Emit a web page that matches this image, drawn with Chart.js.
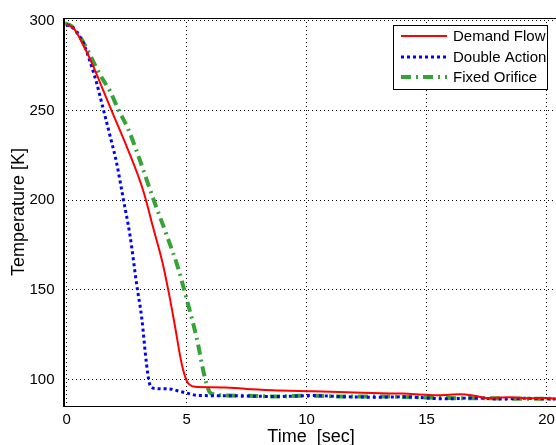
<!DOCTYPE html>
<html>
<head>
  <title>Temperature vs Time</title>
  <meta charset="utf-8" />
  <script src="https://cdn.jsdelivr.net/npm/chart.js@4/dist/chart.umd.min.js"></script>
  <style>
    html, body {
      margin: 0;
      padding: 0;
      background: #ffffff;
      overflow: hidden;
    }
    #wrap {
      width: 560px;
      height: 450px;
    }
  </style>
</head>
<body>
  <div id="wrap">
    <canvas id="tempChart" width="560" height="450"></canvas>
  </div>
  <script>
    // values
    var seriesNames = ['Demand Flow', 'Double Action', 'Fixed Orifice'];

    var demandTime = [0, 0.3, 0.8, 1.1, 1.5, 1.9, 2.5, 3.2, 3.6, 4.0, 4.25, 4.5, 4.8, 5.0, 5.1, 5.35, 6, 7.2, 7.5, 8.9, 10.3, 11, 13.1, 14, 15, 15.5, 16.4, 17, 17.5, 18.5, 19.3, 20, 20.5];
    var demandTemp = [298, 295.7, 283.5, 275, 262, 249, 230, 205, 185, 165, 149, 131, 108.6, 99.5, 97.5, 96, 95.8, 95.2, 94.8, 94, 93.5, 93.3, 92.4, 92.2, 91.5, 91.3, 91.8, 91, 89.8, 90.2, 89.6, 89.8, 89];

    var doubleTime = [0, 0.15, 0.35, 0.7, 1.04, 1.25, 1.53, 1.81, 2.08, 2.36, 2.64, 2.92, 3.13, 3.33, 3.45, 3.55, 3.75, 4.3, 4.7, 5.1, 5.3, 5.8, 6.9, 8.75, 10.3, 11.5, 13, 14, 15.8, 17, 18, 19, 20, 20.5];
    var doubleTemp = [297.6, 297.2, 294.8, 287.4, 274.6, 265.3, 250.6, 235.8, 221, 200.8, 180.5, 153, 134.4, 108.6, 98, 95.6, 95, 94.8, 93.5, 92.2, 91.5, 91.1, 91, 90.6, 91.1, 90.5, 90.2, 90.4, 89.3, 89.8, 89.2, 89.6, 89.3, 89.2];

    var fixedTime = [-0.07, 0.2, 0.55, 0.97, 1.39, 1.81, 2.15, 2.57, 2.98, 3.61, 4.17, 4.65, 5.0, 5.42, 5.76, 5.97, 6.15, 6.67, 7.5, 8.6, 10, 11.5, 13, 14.5, 16, 17.5, 19, 20, 20.5];
    var fixedTemp = [298.5, 297, 291.2, 281, 269.9, 260.7, 250.6, 239.5, 225, 200.8, 180.5, 162, 145, 123.3, 101.2, 92.9, 91.8, 91.1, 91, 90.6, 91, 90.6, 90.6, 90.2, 89.7, 89.6, 89.3, 89.3, 89.2];

    var xTicks = [0, 5, 10, 15, 20];
    var yTicks = [100, 150, 200, 250, 300];

    var colors = ['#ff0000', '#0000ff', '#36a336'];
    var widths = [2, 3, 4];
    var dashes = [[], [3, 3], [10, 5, 2, 5]];

    function toPoints(xs, ys) {
      return xs.map(function(x, i) { return { x: x, y: ys[i] }; });
    }

    var seriesData = [
      toPoints(demandTime, demandTemp),
      toPoints(doubleTime, doubleTemp),
      toPoints(fixedTime, fixedTemp)
    ];

    var fontFam = '"Liberation Sans", Arial, sans-serif';

    // box round the plot + legend box in the top right
    var framePlugin = {
      id: 'frame',
      afterDraw: function(chart) {
        var ctx = chart.ctx;
        var a = chart.chartArea;
        ctx.save();
        ctx.strokeStyle = '#000';
        ctx.lineWidth = 1;
        ctx.strokeRect(Math.round(a.left) + 0.5, Math.round(a.top) + 0.5,
          Math.round(a.right - a.left), Math.round(a.bottom - a.top));

        // legend
        var bx = 393, by = 25, bw = 154, bh = 64;
        ctx.fillStyle = '#fff';
        ctx.fillRect(bx, by, bw, bh);
        ctx.strokeRect(bx + 0.5, by + 0.5, bw, bh);
        ctx.font = '15px ' + fontFam;
        ctx.textBaseline = 'middle';
        var rows = [36, 57, 77];
        seriesNames.forEach(function(name, i) {
          ctx.beginPath();
          ctx.strokeStyle = colors[i];
          ctx.lineWidth = widths[i];
          ctx.setLineDash(dashes[i]);
          ctx.moveTo(401, rows[i]);
          ctx.lineTo(447, rows[i]);
          ctx.stroke();
          ctx.setLineDash([]);
          ctx.fillStyle = '#000';
          ctx.fillText(name, 453, rows[i] + 1);
        });
        ctx.restore();
      }
    };

    var ctx = document.getElementById('tempChart').getContext('2d');
    var tempChart = new Chart(ctx, {
      type: 'line',
      data: {
        datasets: seriesNames.map(function(name, i) {
          return {
            label: name,
            data: seriesData[i],
            borderColor: colors[i],
            borderWidth: widths[i],
            borderDash: dashes[i],
            pointRadius: 0,
            cubicInterpolationMode: 'monotone',
            fill: false
          };
        })
      },
      options: {
        responsive: false,
        animation: false,
        devicePixelRatio: 1,
        layout: { padding: { top: 15, right: 1.5, left: 0, bottom: 0 } },
        plugins: {
          legend: { display: false },
          tooltip: { enabled: false }
        },
        scales: {
          x: {
            type: 'linear',
            min: -0.13,
            max: 20.5,
            afterBuildTicks: function(scale) {
              scale.ticks = xTicks.map(function(v) { return { value: v }; });
            },
            afterFit: function(scale) { scale.height = 44; },
            grid: { color: '#000', lineWidth: 1, drawTicks: false },
            border: { display: true, color: '#000', width: 1, dash: [1, 3] },
            ticks: {
              color: '#000',
              padding: 5,
              maxRotation: 0,
              font: { family: fontFam, size: 15 }
            },
            title: {
              display: true,
              text: 'Time  [sec]',
              color: '#000',
              padding: { top: 0, bottom: 2 },
              font: { family: fontFam, size: 18 }
            }
          },
          y: {
            min: 85.3,
            max: 301.5,
            afterBuildTicks: function(scale) {
              scale.ticks = yTicks.map(function(v) { return { value: v }; });
            },
            afterFit: function(scale) { scale.width = 63.5; },
            grid: { color: '#000', lineWidth: 1, drawTicks: false },
            border: { display: true, color: '#000', width: 1, dash: [1, 3] },
            ticks: {
              color: '#000',
              padding: 9,
              font: { family: fontFam, size: 15 }
            },
            title: {
              display: true,
              text: 'Temperature [K]',
              color: '#000',
              padding: { top: 8, bottom: 0 },
              font: { family: fontFam, size: 18 }
            }
          }
        }
      },
      plugins: [framePlugin]
    });
  </script>
</body>
</html>
